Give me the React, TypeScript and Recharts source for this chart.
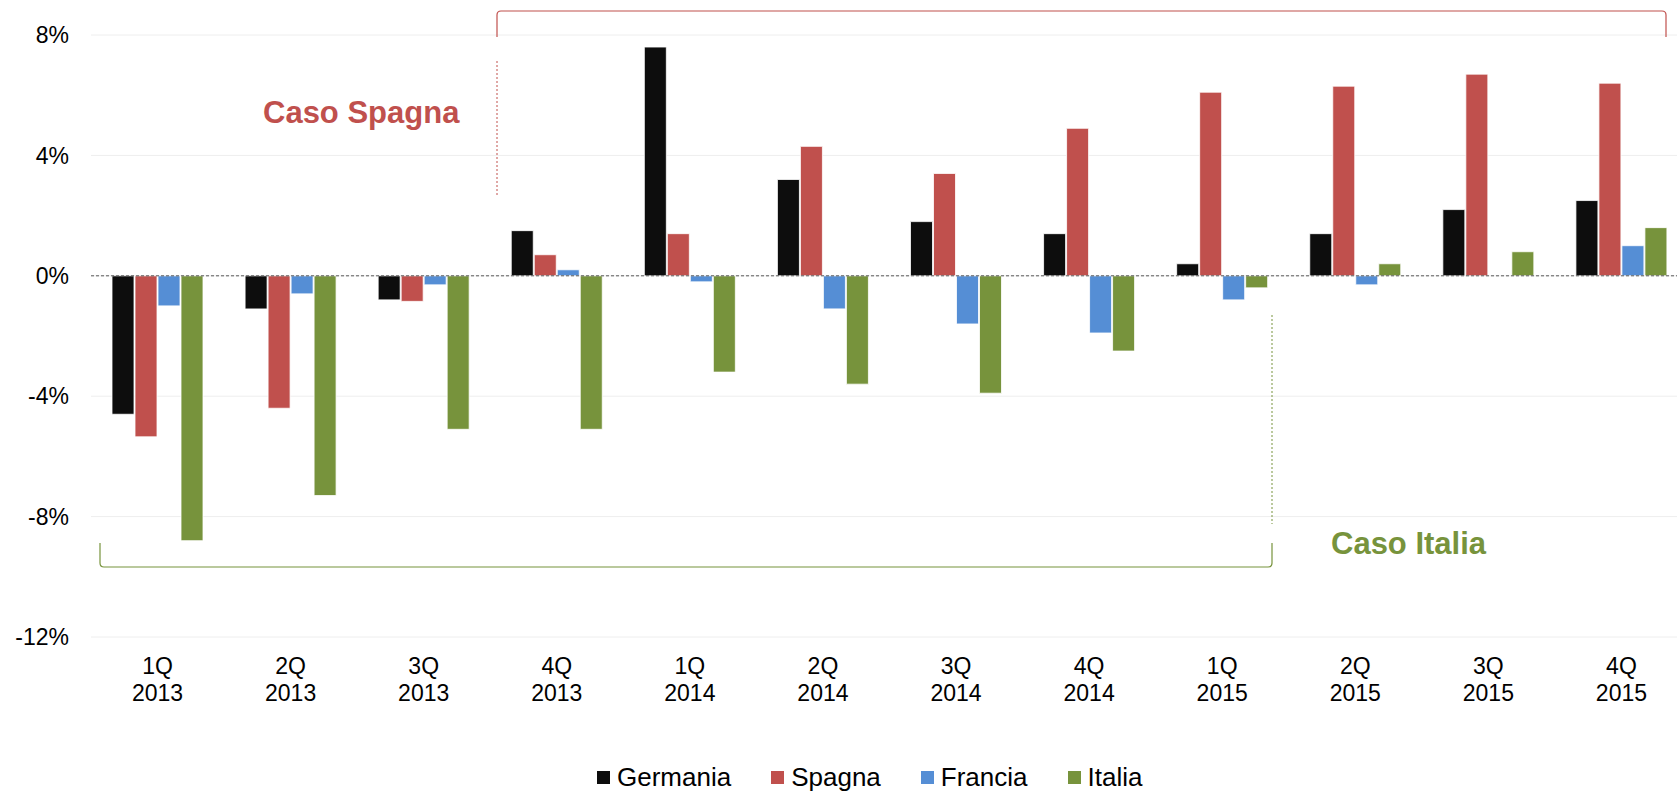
import { Bar, BarChart, CartesianGrid, Legend, ReferenceLine, XAxis, YAxis } from "recharts";

// quarterly change, %
const quarters = ["1Q 2013", "2Q 2013", "3Q 2013", "4Q 2013", "1Q 2014", "2Q 2014", "3Q 2014", "4Q 2014", "1Q 2015", "2Q 2015", "3Q 2015", "4Q 2015"];
const germania = [-4.6, -1.1, -0.8, 1.5, 7.6, 3.2, 1.8, 1.4, 0.4, 1.4, 2.2, 2.5];
const spagna = [-5.35, -4.4, -0.85, 0.7, 1.4, 4.3, 3.4, 4.9, 6.1, 6.3, 6.7, 6.4];
const francia = [-1.0, -0.6, -0.3, 0.2, -0.2, -1.1, -1.6, -1.9, -0.8, -0.3, 0, 1.0];
const italia = [-8.8, -7.3, -5.1, -5.1, -3.2, -3.6, -3.9, -2.5, -0.4, 0.4, 0.8, 1.6];
const yTicks = [-12, -8, -4, 0, 4, 8];

const series = [
  { key: "Germania", color: "#0d0d0d" },
  { key: "Spagna", color: "#c0504d" },
  { key: "Francia", color: "#558ed5" },
  { key: "Italia", color: "#77933c" },
];

const data = quarters.map((q, i) => ({ q, Germania: germania[i], Spagna: spagna[i], Francia: francia[i], Italia: italia[i] }));

const font = "'Liberation Sans', Arial, sans-serif";

function QuarterTick({ x, y, payload }: any) {
  const [top, bottom] = String(payload.value).split(" ");
  return (
    <text x={x} y={y} textAnchor="middle" fontFamily={font} fontSize={23} fill="#000">
      <tspan x={x} dy={29}>{top}</tspan>
      <tspan x={x} dy={27}>{bottom}</tspan>
    </text>
  );
}

function LegendRow() {
  return (
    <div style={{ display: "flex", alignItems: "center", height: 30, marginLeft: 597, fontFamily: font, fontSize: 26, color: "#000" }}>
      {series.map((s, i) => (
        <span key={s.key} style={{ display: "flex", alignItems: "center", marginLeft: i ? 40 : 0 }}>
          <i style={{ width: 13, height: 13, background: s.color, marginRight: 7, display: "inline-block" }} />
          {s.key}
        </span>
      ))}
    </div>
  );
}

// brackets and captions around the two highlighted periods
function Annotations() {
  return (
    <svg width={1677} height={792} style={{ position: "absolute", left: 0, top: 0, pointerEvents: "none" }}>
      <path d="M497 37 V15 Q497 11 501 11 H1662 Q1666 11 1666 15 V37" fill="none" stroke="#c0504d" strokeWidth={1.2} />
      <line x1={497} y1={61} x2={497} y2={197} stroke="#c0504d" strokeWidth={1} strokeDasharray="2 2" />
      <text x={263} y={123} fontFamily={font} fontSize={31} fontWeight="bold" fill="#c0504d">Caso Spagna</text>
      <path d="M100 543 V563 Q100 567 104 567 H1268 Q1272 567 1272 563 V543" fill="none" stroke="#77933c" strokeWidth={1.2} />
      <line x1={1272} y1={315} x2={1272} y2={524} stroke="#77933c" strokeWidth={1} strokeDasharray="2 2" />
      <text x={1331} y={554} fontFamily={font} fontSize={31} fontWeight="bold" fill="#77933c">Caso Italia</text>
    </svg>
  );
}

export default function App() {
  // the plot area runs a little past the right edge, so the frame clips it
  return (
    <div style={{ position: "absolute", left: 0, top: 0, width: 1677, height: 792, overflow: "hidden", background: "#fff" }}>
      <BarChart width={1688} height={792} data={data} margin={{ top: 35, right: 0, bottom: 0, left: 0 }} barSize={22} barGap={1}>
        <CartesianGrid vertical={false} stroke="#eeeeee" />
        <XAxis dataKey="q" axisLine={false} tickLine={false} interval={0} height={125} tick={<QuarterTick />} />
        <YAxis
          width={91}
          domain={[-12, 8]}
          ticks={yTicks}
          axisLine={false}
          tickLine={false}
          tickMargin={16}
          tickFormatter={(v: number) => `${v}%`}
          tick={{ fontFamily: font, fontSize: 23, fill: "#000" }}
        />
        <ReferenceLine y={0} stroke="#595959" strokeDasharray="3 2" />
        {series.map((s) => (
          <Bar key={s.key} dataKey={s.key} fill={s.color} stroke="#ffffff" strokeWidth={0.8} isAnimationActive={false} />
        ))}
        <Legend verticalAlign="bottom" wrapperStyle={{ left: 0, width: 1677, bottom: 0 }} content={() => <LegendRow />} />
      </BarChart>
      <Annotations />
    </div>
  );
}
